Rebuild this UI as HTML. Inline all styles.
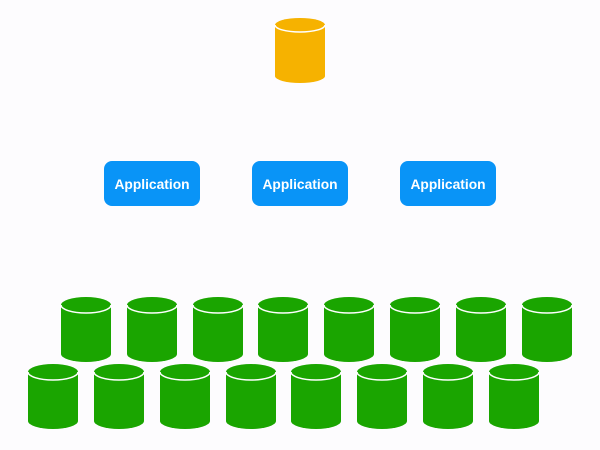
<!DOCTYPE html>
<html><head><meta charset="utf-8"><style>
html,body{margin:0;padding:0;background:#fdfcfe;}
svg{display:block}
</style></head><body>
<svg width="600" height="450" viewBox="0 0 600 450" xmlns="http://www.w3.org/2000/svg">
<defs>
<g id="g">
<path d="M0,8 A25,8 0 0 1 50,8 L50,57 A25,8 0 0 1 0,57 Z" fill="#1aa500"/>
<path d="M0,8 A25,8 0 0 0 50,8" fill="none" stroke="#fff" stroke-width="1.5"/>
</g>
</defs>
<g transform="translate(275,18)">
<path d="M0,7 A25,7 0 0 1 50,7 L50,58 A25,7 0 0 1 0,58 Z" fill="#f6b200"/>
<path d="M0,7 A25,7 0 0 0 50,7" fill="none" stroke="#fff" stroke-width="1.5"/>
</g>
<g font-family="Liberation Sans, sans-serif" font-weight="bold" font-size="13.8" fill="#fff" text-anchor="middle">
<rect x="104" y="161" width="96" height="45" rx="8" fill="#0994f7"/>
<text x="152" y="188.8">Application</text>
<rect x="252" y="161" width="96" height="45" rx="8" fill="#0994f7"/>
<text x="300" y="188.8">Application</text>
<rect x="400" y="161" width="96" height="45" rx="8" fill="#0994f7"/>
<text x="448" y="188.8">Application</text>
</g>
<use href="#g" x="61" y="297"/>
<use href="#g" x="127" y="297"/>
<use href="#g" x="193" y="297"/>
<use href="#g" x="258" y="297"/>
<use href="#g" x="324" y="297"/>
<use href="#g" x="390" y="297"/>
<use href="#g" x="456" y="297"/>
<use href="#g" x="522" y="297"/>
<use href="#g" x="28" y="364"/>
<use href="#g" x="94" y="364"/>
<use href="#g" x="160" y="364"/>
<use href="#g" x="226" y="364"/>
<use href="#g" x="291" y="364"/>
<use href="#g" x="357" y="364"/>
<use href="#g" x="423" y="364"/>
<use href="#g" x="489" y="364"/>
</svg>
</body></html>
